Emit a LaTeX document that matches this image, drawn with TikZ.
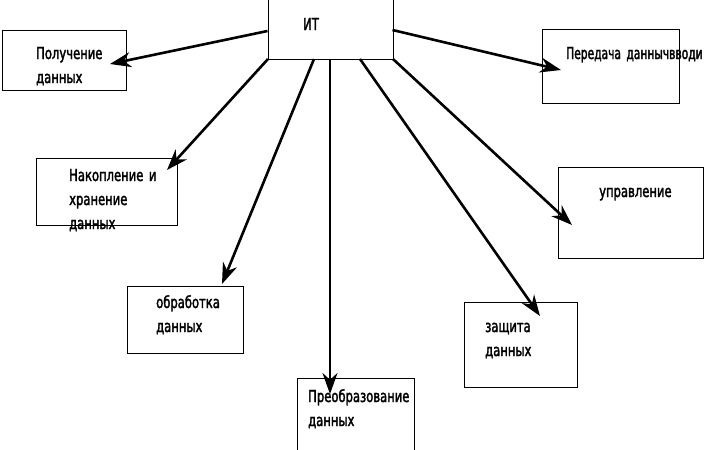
\documentclass[tikz,border=0pt]{standalone}
\usepackage{fontspec}
\setmainfont{DejaVu Sans Condensed}[FakeStretch=0.78,FakeBold=2]
\newfontfamily\narrowfont{DejaVu Sans Condensed}[FakeStretch=0.72,FakeBold=2]
\usetikzlibrary{arrows.meta}
\begin{document}
\begin{tikzpicture}[x=1pt,y=-1pt,
  box/.style={draw=black,line width=0.9pt,inner sep=0pt,anchor=north west},
  label/.style={anchor=base west,inner sep=0pt,text width=160pt,align=left,
    font=\fontsize{16.5}{24}\selectfont},
  link/.style={line width=2.6pt,-{Stealth[length=21pt,width=15pt]}}]
\useasboundingbox (0,0) rectangle (705,450);

% central box
\node[box,minimum width=125pt,minimum height=60pt] (it) at (267.5,-1) {};
\node[label] (itT) at (303,30) {ИТ};

% function boxes
\node[box,minimum width=124pt,minimum height=60pt] (get) at (2,30) {};
\node[label] (getT) at (36,59) {Получение\\данных};

\node[box,minimum width=137pt,minimum height=74pt] (send) at (542,29) {};
\node[label,text width=200pt,font=\narrowfont\fontsize{16.5}{24}\selectfont]
  (sendT) at (566,59) {Передача даннычвводи};

\node[box,minimum width=141pt,minimum height=67pt] (store) at (36,158) {};
\node[label] (storeT) at (69,181) {Накопление и\\хранение\\данных};

\node[box,minimum width=145pt,minimum height=91pt] (ctrl) at (558,167) {};
\node[label] (ctrlT) at (599,197) {управление};

\node[box,minimum width=116pt,minimum height=67pt] (proc) at (127,286) {};
\node[label] (procT) at (156,308) {обработка\\данных};

\node[box,minimum width=113pt,minimum height=85pt] (prot) at (464,302) {};
\node[label] (protT) at (485,332) {защита\\данных};

\node[box,minimum width=117pt,minimum height=72pt] (conv) at (297,378) {};
\node[label] (convT) at (308,402) {Преобразование\\данных};

% arrow ends
\coordinate (eGet) at (110,64);
\coordinate (eSend) at (561,70);
\coordinate (eStore) at (167,170);
\coordinate (eProc) at (222,284);
\coordinate (eConv) at (330,394);
\coordinate (eProt) at (540,316);
\coordinate (eCtrl) at (572,225);

% arrow starts on the central box
\coordinate (sGet) at (267.5,31);
\coordinate (sSend) at (392.5,30);
\coordinate (sStore) at (268,59);
\coordinate (sProc) at (314,59);
\coordinate (sConv) at (330,59);
\coordinate (sProt) at (360,59);
\coordinate (sCtrl) at (393,59);

\draw[link] (sGet) -- (eGet);
\draw[link] (sSend) -- (eSend);
\draw[link] (sStore) -- (eStore);
\draw[link] (sProc) -- (eProc);
\draw[link] (sConv) -- (eConv);
\draw[link] (sProt) -- (eProt);
\draw[link] (sCtrl) -- (eCtrl);
\end{tikzpicture}
\end{document}
